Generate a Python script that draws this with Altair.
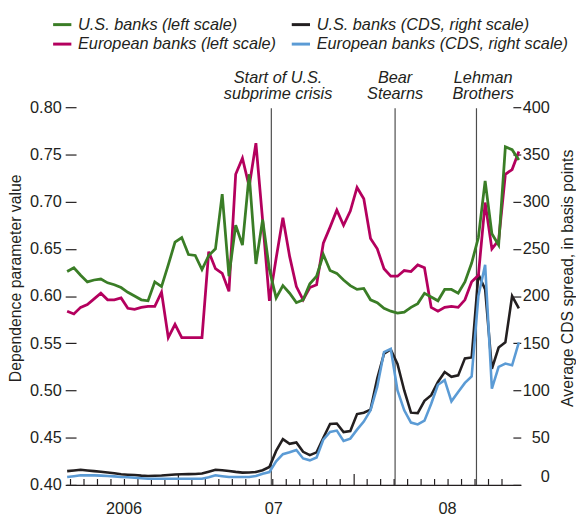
import altair as alt
import pandas as pd

FONT = "Liberation Sans, Arial, Helvetica, sans-serif"
INK = "#231f20"
FS = 16.5

# ---- data (biweekly observations) ----
start_date = "2006-05-15"
n_obs = 68
us_dep = [0.626, 0.630, 0.622, 0.615, 0.617, 0.618, 0.614, 0.612, 0.609, 0.604,
          0.600, 0.596, 0.595, 0.615, 0.610, 0.633, 0.657, 0.662, 0.644, 0.643,
          0.628, 0.643, 0.650, 0.708, 0.621, 0.675, 0.654, 0.729, 0.634, 0.681,
          0.628, 0.598, 0.611, 0.603, 0.593, 0.596, 0.613, 0.621, 0.644, 0.627,
          0.624, 0.617, 0.611, 0.607, 0.608, 0.596, 0.593, 0.587, 0.584, 0.582,
          0.583, 0.588, 0.592, 0.603, 0.599, 0.595, 0.607, 0.607, 0.603, 0.615,
          0.635, 0.662, 0.722, 0.666, 0.654, 0.758, 0.755, 0.744]
eu_dep = [0.584, 0.581, 0.588, 0.591, 0.597, 0.603, 0.596, 0.596, 0.598, 0.587,
          0.586, 0.588, 0.589, 0.589, 0.604, 0.556, 0.570, 0.556, 0.556, 0.556,
          0.556, 0.647, 0.629, 0.624, 0.605, 0.729, 0.746, 0.716, 0.762, 0.680,
          0.595, 0.640, 0.683, 0.642, 0.610, 0.596, 0.609, 0.612, 0.656, 0.673,
          0.691, 0.675, 0.690, 0.715, 0.703, 0.661, 0.650, 0.629, 0.621, 0.621,
          0.627, 0.626, 0.633, 0.630, 0.588, 0.584, 0.588, 0.589, 0.588, 0.596,
          0.615, 0.622, 0.699, 0.650, 0.659, 0.729, 0.734, 0.753]
us_cds = [14.6, 15.3, 16.0, 15.3, 14.6, 14.0, 13.2, 12.3, 11.2, 10.8,
          10.4, 9.8, 9.4, 9.7, 10.0, 10.5, 11.0, 11.2, 11.4, 11.6,
          12.0, 14.0, 16.0, 15.5, 14.8, 13.8, 13.0, 13.2, 13.6, 15.5,
          19.0, 36.0, 48.4, 43.5, 45.0, 35.0, 31.5, 34.5, 50.0, 64.5,
          65.0, 56.0, 57.0, 75.0, 76.5, 79.7, 112.8, 138.9, 143.4, 128.0,
          100.0, 76.5, 76.0, 89.0, 95.0, 109.0, 119.5, 114.5, 116.0, 134.0,
          135.0, 223.0, 207.0, 123.0, 145.5, 151.0, 200.0, 187.0]
eu_cds = [8.4, 9.2, 10.1, 10.1, 10.1, 9.8, 9.4, 9.0, 8.4, 8.0,
          7.5, 7.0, 6.6, 6.6, 6.6, 6.6, 6.6, 6.6, 6.6, 6.6,
          6.6, 8.0, 10.1, 9.2, 8.4, 8.4, 8.4, 8.4, 9.5, 11.8,
          13.6, 25.0, 32.5, 34.5, 37.0, 28.0, 26.0, 29.0, 48.0, 56.0,
          57.5, 46.5, 49.0, 58.5, 67.0, 79.0, 104.0, 140.7, 144.0, 100.0,
          79.0, 66.0, 64.0, 68.0, 86.0, 106.0, 111.0, 88.5, 98.5, 108.0,
          115.0, 200.0, 233.0, 102.0, 125.0, 128.5, 126.7, 151.0]

series_names = ["U.S. banks (left scale)", "European banks (left scale)",
                "U.S. banks (CDS, right scale)", "European banks (CDS, right scale)"]
series_colors = ["#3a7d26", "#b4005e", "#231f20", "#5b9bd5"]

event_dates = ["2007-07-13", "2008-03-26", "2008-09-11"]
event_label_dates = ["2007-07-27", "2008-03-26", "2008-09-25"]
event_line1 = ["Start of U.S.", "Bear", "Lehman"]
event_line2 = ["subprime crisis", "Stearns", "Brothers"]

year_label_dates = ["2006-09-09", "2007-07-17", "2008-07-12"]
year_tick_dates = ["2007-01-01", "2008-01-01"]
minor_tick_dates = [d for d in pd.date_range("2006-05-22", "2008-11-20", freq="28D")
                    if d.strftime("%Y-%m-%d") not in ("2007-01-01", "2007-12-31")]

dep_ticks = [0.40, 0.45, 0.50, 0.55, 0.60, 0.65, 0.70, 0.75, 0.80]
cds_ticks = [0, 50, 100, 150, 200, 250, 300, 350, 400]

# ---- tables ----
dates = pd.date_range(start_date, periods=n_obs, freq="14D")


def frame(values, name):
    return pd.DataFrame({"date": dates, "value": values, "series": name})


us_dep_df = frame(us_dep, series_names[0])
eu_dep_df = frame(eu_dep, series_names[1])
us_cds_df = frame(us_cds, series_names[2])
eu_cds_df = frame(eu_cds, series_names[3])
events_df = pd.DataFrame({"date": pd.to_datetime(event_dates)})
labels1_df = pd.DataFrame({"date": pd.to_datetime(event_label_dates), "text": event_line1})
labels2_df = pd.DataFrame({"date": pd.to_datetime(event_label_dates), "text": event_line2})
minor_df = pd.DataFrame({"date": minor_tick_dates})
major_df = pd.DataFrame({"date": pd.to_datetime(year_tick_dates)})

W, H = 461, 383

x_axis = alt.Axis(
    values=[alt.DateTime(year=int(d[:4]), month=int(d[5:7]), date=int(d[8:10]))
            for d in year_label_dates],
    labelExpr="year(datum.value) == 2006 ? '2006' : timeFormat(datum.value, '%y')",
    tickSize=0, labelPadding=16, labelFontSize=FS, domainColor=INK, domainWidth=1.2,
    grid=False, title=None, labelAngle=0,
)
x_scale = alt.Scale(domain=[alt.DateTime(year=2006, month=5, date=13),
                            alt.DateTime(year=2008, month=12, date=12)])
x_enc = alt.X("date:T", scale=x_scale, axis=x_axis)

color_enc = alt.Color(
    "series:N",
    scale=alt.Scale(domain=series_names, range=series_colors),
    legend=alt.Legend(
        orient="none", legendX=-15, legendY=-95, columns=2, title=None,
        symbolType="stroke", symbolSize=342, symbolStrokeWidth=3,
        labelFont=FONT, labelFontSize=FS, labelFontStyle="italic", labelColor=INK,
        labelOffset=5, labelLimit=400, rowPadding=0, columnPadding=9, padding=0,
    ),
)

dep_y = alt.Y(
    "value:Q",
    scale=alt.Scale(domain=[0.40, 0.80], nice=False, zero=False),
    axis=alt.Axis(
        orient="left", values=dep_ticks, format=".2f", offset=-10, tickSize=11,
        tickColor=INK, tickWidth=1.2, domain=False, grid=False, labelPadding=4,
        labelFontSize=FS, title="Dependence parameter value", titleFontSize=16,
        titleAngle=270, titleX=-61, titleY=173, titleBaseline="middle",
        titleAlign="center",
    ),
)
cds_y = alt.Y(
    "value:Q",
    scale=alt.Scale(domain=[0, 400], nice=False),
    axis=alt.Axis(
        orient="right", values=cds_ticks, offset=-8, tickSize=8,
        tickColor=INK, tickWidth=1.2, domain=False, grid=False,
        labelAlign="right", labelPadding=29, labelFontSize=FS,
        labelBaseline=alt.condition("datum.value == 0", alt.value("bottom"), alt.value("middle")),
        title="Average CDS spread, in basis points", titleFontSize=16,
        titleAngle=270, titleX=55, titleY=173, titleBaseline="middle",
        titleAlign="center",
    ),
)


def line(df, y_enc, width):
    return alt.Chart(df).mark_line(strokeWidth=width, strokeJoin="miter").encode(
        x=x_enc, y=y_enc, color=color_enc)


cds_layer = alt.layer(line(us_cds_df, cds_y, 2.6), line(eu_cds_df, cds_y, 2.6))
dep_layer = alt.layer(line(eu_dep_df, dep_y, 2.8), line(us_dep_df, dep_y, 2.8))

event_rules = alt.Chart(events_df).mark_rule(color="#4d4d4d", strokeWidth=1.2).encode(
    x=x_enc, y=alt.value(1), y2=alt.value(H))
minor_ticks = alt.Chart(minor_df).mark_rule(color=INK, strokeWidth=1.2).encode(
    x=x_enc, y=alt.value(H), y2=alt.value(H - 6))
major_ticks = alt.Chart(major_df).mark_rule(color=INK, strokeWidth=1.2).encode(
    x=x_enc, y=alt.value(H), y2=alt.value(H - 11))
text_style = dict(font=FONT, fontSize=FS, fontStyle="italic", color=INK, align="center")
label1 = alt.Chart(labels1_df).mark_text(baseline="alphabetic", **text_style).encode(
    x=x_enc, y=alt.value(-25), text="text:N")
label2 = alt.Chart(labels2_df).mark_text(baseline="alphabetic", **text_style).encode(
    x=x_enc, y=alt.value(-8), text="text:N")

chart = alt.layer(
    event_rules, minor_ticks, major_ticks, label1, label2, cds_layer, dep_layer
).resolve_scale(y="independent").properties(
    width=W, height=H,
    autosize=alt.AutoSizeParams(type="none"),
    padding={"left": 59, "top": 97, "right": 56, "bottom": 32},
).configure_axis(
    labelFont=FONT, titleFont=FONT, labelColor=INK, titleColor=INK,
    titleFontWeight="normal",
).configure_view(strokeWidth=0)

chart.save("out.html", embed_options={"renderer": "svg", "actions": False})
